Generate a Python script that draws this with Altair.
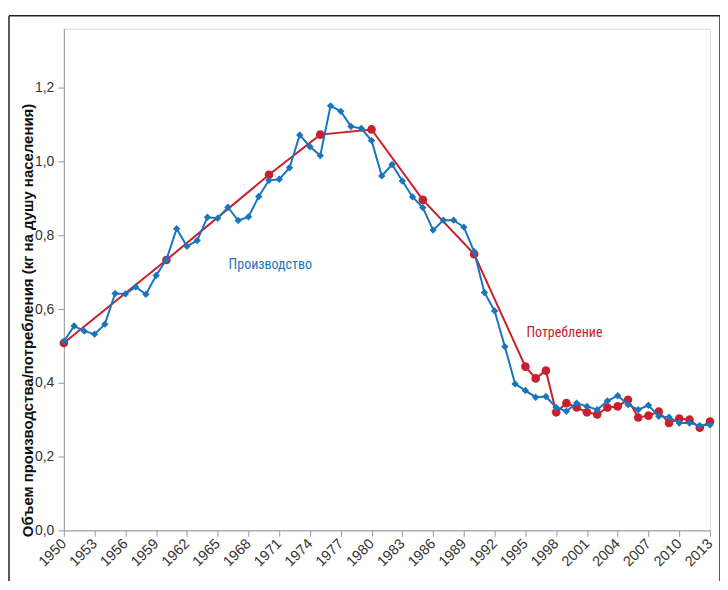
import altair as alt
import pandas as pd

prod_years = list(range(1950, 2014))
prod_values = [
    0.512, 0.554, 0.540, 0.532, 0.559, 0.642, 0.641, 0.660, 0.640, 0.691,
    0.734, 0.818, 0.770, 0.786, 0.849, 0.846, 0.876, 0.840, 0.850, 0.905,
    0.949, 0.952, 0.983, 1.072, 1.040, 1.016, 1.151, 1.136, 1.095, 1.090,
    1.057, 0.961, 0.992, 0.947, 0.904, 0.875, 0.814, 0.841, 0.841, 0.822,
    0.756, 0.645, 0.595, 0.498, 0.397, 0.379, 0.361, 0.363, 0.333, 0.323,
    0.345, 0.336, 0.327, 0.351, 0.365, 0.341, 0.327, 0.339, 0.309, 0.307,
    0.291, 0.291, 0.284, 0.286,
]

cons_years = [1950, 1960, 1970, 1975, 1980, 1985, 1990] + list(range(1995, 2014))
cons_values = [
    0.508, 0.733, 0.964, 1.073, 1.087, 0.896, 0.749,
    0.444, 0.412, 0.433, 0.320, 0.345, 0.333, 0.320, 0.314, 0.333, 0.336,
    0.354, 0.306, 0.311, 0.322, 0.291, 0.303, 0.300, 0.278, 0.295,
]

x_ticks = list(range(1950, 2014, 3))
y_ticks = [0.0, 0.2, 0.4, 0.6, 0.8, 1.0, 1.2]

BLUE = "#1a76bc"
RED = "#c8202c"

prod_df = pd.DataFrame({"year": prod_years, "value": prod_values})
cons_df = pd.DataFrame({"year": cons_years, "value": cons_values})

x_enc = alt.X(
    "year:Q",
    scale=alt.Scale(domain=[1950, 2013], nice=False, zero=False),
    axis=alt.Axis(
        values=x_ticks, format="d", labelAngle=315, labelAlign="right",
        labelBaseline="middle", labelFontSize=14.5, labelColor="#333333",
        labelPadding=5, domainColor="#999999", tickColor="#999999",
        tickSize=6, grid=False, title=None, labelFont="Liberation Sans",
        labelOverlap=False, labelBound=False, labelFlush=False,
    ),
)
y_enc = alt.Y(
    "value:Q",
    scale=alt.Scale(domain=[0, 1.36], nice=False),
    axis=alt.Axis(
        values=y_ticks, labelExpr="replace(format(datum.value, '.1f'), '.', ',')",
        labelFontSize=14, labelColor="#333333", labelPadding=4,
        domainColor="#999999", tickColor="#999999", tickSize=6, grid=False,
        title="Объем производства/потребления (кг на душу населения)",
        titleFontSize=15, titleFontWeight="bold", titleColor="#111111",
        titleFont="Liberation Sans", labelFont="Liberation Sans",
        titleX=-36, titleY=292, titleAlign="center", titleBaseline="middle",
    ),
)

cons_line = alt.Chart(cons_df).mark_line(color=RED, strokeWidth=2).encode(x=x_enc, y=y_enc)
cons_pts = alt.Chart(cons_df).mark_point(
    shape="circle", filled=True, color=RED, size=75, opacity=1
).encode(x=x_enc, y=y_enc)

prod_line = alt.Chart(prod_df).mark_line(color=BLUE, strokeWidth=2).encode(x=x_enc, y=y_enc)
prod_pts = alt.Chart(prod_df).mark_point(
    shape="diamond", filled=True, color=BLUE, size=55, opacity=1
).encode(x=x_enc, y=y_enc)

lab_font = "Liberation Sans Narrow, Arial Narrow, Roboto Condensed, sans-serif"
prod_label = alt.Chart(pd.DataFrame({"t": ["Производство"]})).mark_text(
    color=BLUE, fontSize=14, font=lab_font, align="center", baseline="middle"
).encode(text="t:N", x=alt.value(207), y=alt.value(237))
cons_label = alt.Chart(pd.DataFrame({"t": ["Потребление"]})).mark_text(
    color=RED, fontSize=14, font=lab_font, align="center", baseline="middle"
).encode(text="t:N", x=alt.value(502), y=alt.value(305))

frame_left = alt.Chart(pd.DataFrame({"a": [0]})).mark_rule(color="#222222", strokeWidth=1.5).encode(
    x=alt.value(-55), y=alt.value(-13), y2=alt.value(562))
frame_top = alt.Chart(pd.DataFrame({"a": [0]})).mark_rule(color="#222222", strokeWidth=1.5).encode(
    y=alt.value(-13), x=alt.value(-55), x2=alt.value(658))
frame_right = alt.Chart(pd.DataFrame({"a": [0]})).mark_rule(color="#222222", strokeWidth=1.5).encode(
    x=alt.value(658), y=alt.value(-13), y2=alt.value(562))

chart = alt.layer(
    cons_line, cons_pts, prod_line, prod_pts, prod_label, cons_label,
    frame_left, frame_top, frame_right,
).properties(
    width=648, height=503,
    autosize=alt.AutoSizeParams(type="none"),
    padding={"left": 56, "top": 20, "right": 10, "bottom": 50},
).configure_view(stroke=None).configure(background="white").configure_axisX(
    labelOverlap=False
)

chart.save("out.html", embed_options={"renderer": "svg", "actions": False})
